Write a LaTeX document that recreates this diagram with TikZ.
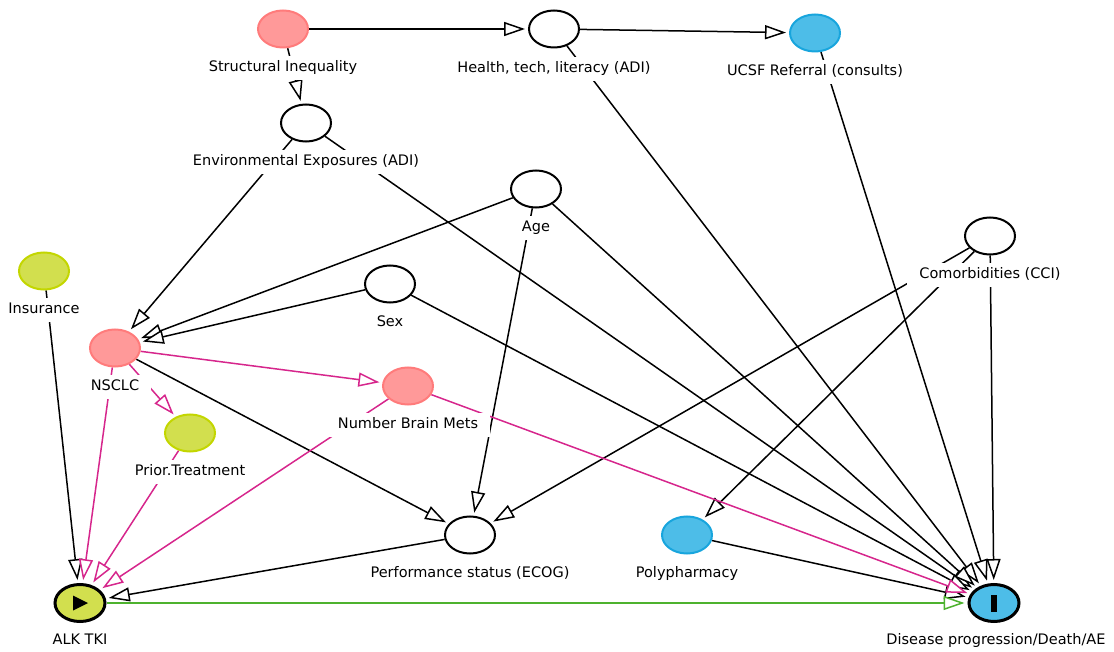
\documentclass[tikz,border=0pt]{standalone}
\usepackage{fontspec}
\setmainfont{DejaVu Sans}
\usetikzlibrary{shapes.geometric,arrows.meta,backgrounds,calc}
\definecolor{pinkfill}{HTML}{FF9999}
\definecolor{pinkline}{HTML}{FF7B7B}
\definecolor{greenfill}{HTML}{D2DF4E}
\definecolor{greenline}{HTML}{C3D600}
\definecolor{bluefill}{HTML}{4DBDE8}
\definecolor{blueline}{HTML}{18A5DD}
\definecolor{magedge}{HTML}{D6268C}
\definecolor{greenedge}{HTML}{4DB22E}
\begin{document}
\begin{tikzpicture}[x=1pt,y=-1pt,
  nd/.style={ellipse, draw=black, line width=2pt, fill=white, minimum width=50pt, minimum height=37pt, inner sep=0pt},
  pinknd/.style={nd, draw=pinkline, fill=pinkfill},
  greennd/.style={nd, draw=greenline, fill=greenfill},
  bluend/.style={nd, draw=blueline, fill=bluefill},
  keynd/.style={line width=3pt, draw=black},
  lbl/.style={fill=white, inner xsep=12pt, inner ysep=5pt, text height=11pt, text depth=3.5pt, font=\fontsize{14.5}{17}\selectfont},
  arr/.style={line width=1.5pt, shorten >=3pt, -{Triangle[length=21pt,width=14pt,fill=white,line width=1.5pt]}},
  magarr/.style={arr, draw=magedge},
  grnarr/.style={arr, draw=greenedge},
]
\useasboundingbox (0,0) rectangle (1114,652);

% nodes
\node[pinknd] (si) at (283,29) {};
\node[nd] (htl) at (554,29) {};
\node[bluend] (ucsf) at (815,33) {};
\node[nd] (ee) at (306,123) {};
\node[nd] (age) at (536,189) {};
\node[nd] (cci) at (990,236) {};
\node[greennd] (ins) at (44,271) {};
\node[nd] (sex) at (390,284) {};
\node[pinknd] (nsclc) at (115,348) {};
\node[pinknd] (nbm) at (408,386) {};
\node[greennd] (pt) at (190,433) {};
\node[nd] (ps) at (470,535) {};
\node[bluend] (pp) at (687,535) {};
\node[greennd, keynd] (alk) at (80,603) {};
\node[bluend, keynd] (dis) at (994,603) {};

% node marks
\fill[black] ($(alk.center)+(-7,-7.5)$) -- ++(15,7.5) -- ++(-15,7.5) -- cycle;
\fill[black] (991,595) rectangle (997,612);

% labels
\node[lbl] (sil) at (283,68) {Structural Inequality};
\node[lbl] (htll) at (554,69) {Health, tech, literacy (ADI)};
\node[lbl] (ucsfl) at (815,72) {UCSF Referral (consults)};
\node[lbl] (eel) at (306,162) {Environmental Exposures (ADI)};
\node[lbl] (agel) at (536,228) {Age};
\node[lbl] (ccil) at (990,275) {Comorbidities (CCI)};
\node[lbl] (insl) at (44,310) {Insurance};
\node[lbl] (sexl) at (390,323) {Sex};
\node[lbl] (nsclcl) at (115,387) {NSCLC};
\node[lbl] (nbml) at (408,425) {Number Brain Mets};
\node[lbl] (ptl) at (190,472) {Prior.Treatment};
\node[lbl] (psl) at (470,574) {Performance status (ECOG)};
\node[lbl] (ppl) at (687,574) {Polypharmacy};
\node[lbl] (alkl) at (80,641) {ALK TKI};
\node[lbl] (disl) at (996,641) {Disease progression/Death/AE};

% edges
\begin{pgfonlayer}{background}
\draw[arr] (si) -- (htl);
\draw[arr] (si) -- (ee);
\draw[arr] (htl) -- (ucsf);
\draw[arr] (htl) -- (dis);
\draw[arr] (ucsf) -- (dis);
\draw[arr] (ee) -- (nsclc);
\draw[arr] (ee) -- (dis);
\draw[arr] (age) -- (nsclc);
\draw[arr] (age) -- (ps);
\draw[arr] (age) -- (dis);
\draw[arr] (sex) -- (nsclc);
\draw[arr] (sex) -- (dis);
\draw[arr] (cci) -- (ps);
\draw[arr] (cci) -- (pp);
\draw[arr] (cci) -- (dis);
\draw[arr] (nsclc) -- (ps);
\draw[arr] (ins) -- (alk);
\draw[arr] (ps) -- (alk);
\draw[arr] (pp) -- (dis);
\draw[magarr] (nsclc) -- (nbm);
\draw[magarr] (nsclc) -- (pt);
\draw[magarr] (nsclc) -- (alk);
\draw[magarr] (pt) -- (alk);
\draw[magarr] (nbm) -- (alk);
\draw[magarr] (nbm) -- (dis);
\draw[grnarr] (alk) -- (dis);
\end{pgfonlayer}
\end{tikzpicture}
\end{document}
